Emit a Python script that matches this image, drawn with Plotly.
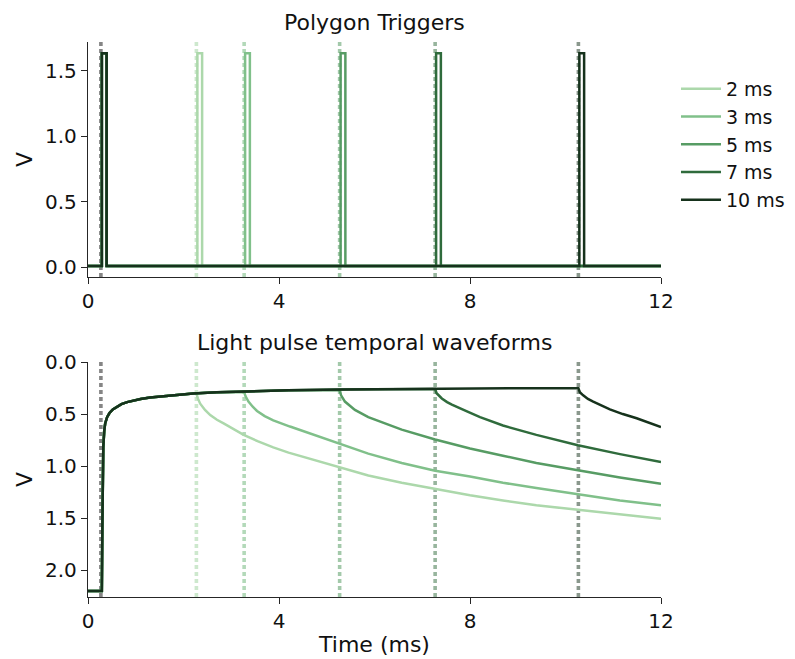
import plotly.graph_objects as go
from plotly.subplots import make_subplots

# ---------------- data ----------------
labels = ["2 ms", "3 ms", "5 ms", "7 ms", "10 ms"]
colors = ["#acd8ab", "#80c08a", "#579c64", "#2f6b3c", "#16321c"]
dash_colors = ["rgba(172,216,171,0.6)", "rgba(128,192,138,0.6)", "rgba(87,156,100,0.55)",
               "rgba(47,107,60,0.5)", "rgba(22,50,28,0.5)"]

onset_time = 0.27            # first dashed marker (light on)
offset_times = [2.27, 3.27, 5.27, 7.27, 10.27]   # dashed markers (light off)

# polygon trigger pulses (rise times, ms), width and level (V)
trigger_rise = [[0.29, 2.29], [0.29, 3.29], [0.29, 5.29], [0.29, 7.29], [0.29, 10.29]]
trigger_width = 0.1
trigger_high = 1.635
trigger_low = 0.01
t_start, t_end = 0.0, 12.0

# common rising part of the light waveform (ms, V)
rise_t = [0.0, 0.29, 0.30, 0.31, 0.32, 0.34, 0.36, 0.40, 0.45, 0.52, 0.60, 0.70, 0.82,
          0.95, 1.10, 1.30, 1.50, 1.80, 2.20, 2.70, 3.30, 4.2, 5.30, 6.3, 7.30, 8.8, 10.30]
rise_v = [2.20, 2.20, 1.60, 1.10, 0.82, 0.66, 0.59, 0.53, 0.49, 0.455, 0.43, 0.405, 0.385,
          0.37, 0.355, 0.342, 0.332, 0.318, 0.302, 0.29, 0.28, 0.272, 0.265, 0.26, 0.256, 0.252, 0.25]

# decay part after light off for each series (ms, V)
decay_t = [
    [2.30, 2.35, 2.45, 2.56, 2.70, 2.84, 3.05, 3.26, 3.55, 3.88, 4.20, 4.58, 5.00, 5.38,
     5.87, 6.57, 7.27, 8.00, 8.69, 9.39, 10.26, 11.14, 12.0],
    [3.30, 3.36, 3.45, 3.54, 3.70, 3.88, 4.23, 4.60, 4.93, 5.38, 5.87, 6.57, 7.27, 8.00,
     8.69, 9.39, 10.26, 11.14, 12.0],
    [5.30, 5.38, 5.48, 5.59, 5.87, 6.20, 6.57, 7.27, 8.00, 8.69, 9.39, 10.26, 11.14, 12.0],
    [7.30, 7.41, 7.52, 7.62, 7.96, 8.21, 8.69, 9.39, 10.26, 11.14, 12.0],
    [10.30, 10.37, 10.47, 10.58, 10.93, 11.20, 11.49, 12.0],
]
decay_v = [
    [0.35, 0.40, 0.46, 0.51, 0.555, 0.59, 0.645, 0.70, 0.76, 0.82, 0.87, 0.92, 0.975, 1.03,
     1.09, 1.16, 1.22, 1.28, 1.33, 1.375, 1.42, 1.46, 1.505],
    [0.33, 0.38, 0.43, 0.47, 0.52, 0.56, 0.62, 0.68, 0.73, 0.80, 0.88, 0.97, 1.045, 1.10,
     1.16, 1.21, 1.27, 1.33, 1.375],
    [0.32, 0.38, 0.42, 0.46, 0.53, 0.59, 0.65, 0.745, 0.83, 0.90, 0.97, 1.04, 1.11, 1.17],
    [0.30, 0.35, 0.385, 0.41, 0.48, 0.53, 0.61, 0.70, 0.80, 0.885, 0.96],
    [0.29, 0.32, 0.355, 0.38, 0.455, 0.50, 0.54, 0.625],
]

x_ticks = [0, 4, 8, 12]
top_y_ticks = [0.0, 0.5, 1.0, 1.5]
bot_y_ticks = [0.0, 0.5, 1.0, 1.5, 2.0]

# ---------------- figure ----------------
FONT = "DejaVu Sans"
TXT = "#111111"
fig = make_subplots(rows=2, cols=1, vertical_spacing=0.0)

# trigger traces
for i, lab in enumerate(labels):
    xs, ys = [t_start], [trigger_low]
    for r in trigger_rise[i]:
        xs += [r, r, r + trigger_width, r + trigger_width]
        ys += [trigger_low, trigger_high, trigger_high, trigger_low]
    xs.append(t_end)
    ys.append(trigger_low)
    fig.add_trace(go.Scatter(x=xs, y=ys, mode="lines", name=lab, showlegend=False,
                             line=dict(color=colors[i], width=2.5)), row=1, col=1)

# light waveform traces
for i, lab in enumerate(labels):
    off = offset_times[i]
    xs = [t for t in rise_t if t <= off]
    ys = [v for t, v in zip(rise_t, rise_v) if t <= off]
    xs.append(off)
    ys.append(ys[-1])
    xs += decay_t[i]
    ys += decay_v[i]
    fig.add_trace(go.Scatter(x=xs, y=ys, mode="lines", name=lab, showlegend=True,
                             line=dict(color=colors[i], width=2.5)), row=2, col=1)

# dashed markers
for yref in ["y domain", "y2 domain"]:
    xref = "x" if yref == "y domain" else "x2"
    fig.add_shape(type="line", xref=xref, yref=yref, x0=onset_time, x1=onset_time, y0=0, y1=1,
                  line=dict(color="rgba(120,120,120,0.9)", width=3.6, dash="4px,3px"), layer="below")
    for i, off in enumerate(offset_times):
        fig.add_shape(type="line", xref=xref, yref=yref, x0=off, x1=off, y0=0, y1=1,
                      line=dict(color=dash_colors[i], width=3.6, dash="4px,3px"), layer="below")

axis_common = dict(showline=True, linecolor="#262626", linewidth=1.4, ticks="outside",
                   ticklen=6, tickwidth=1.4, tickcolor="#262626", showgrid=False, zeroline=False,
                   tickfont=dict(family=FONT, size=20, color=TXT), automargin=False)

fig.update_xaxes(range=[0, 12], tickvals=x_ticks, ticktext=[str(v) for v in x_ticks], **axis_common)
fig.update_yaxes(**axis_common)

fig.update_layout(
    xaxis=dict(domain=[0, 1], anchor="y"),
    yaxis=dict(domain=[320 / 555, 1], range=[-0.073, 1.72], tickvals=top_y_ticks,
               ticktext=[f"{v:.1f}" for v in top_y_ticks],
               title=dict(text="V", font=dict(family=FONT, size=22, color=TXT), standoff=6)),
    xaxis2=dict(domain=[0, 1], anchor="y2",
                title=dict(text="Time (ms)", font=dict(family=FONT, size=22, color=TXT), standoff=4)),
    yaxis2=dict(domain=[0, 235 / 555], range=[2.257, 0.0], tickvals=bot_y_ticks,
                ticktext=[f"{v:.1f}" for v in bot_y_ticks],
                title=dict(text="V", font=dict(family=FONT, size=22, color=TXT), standoff=6)),
    width=795, height=659,
    margin=dict(l=88, r=134, t=42, b=62, autoexpand=False),
    plot_bgcolor="white", paper_bgcolor="white",
    font=dict(family=FONT, color=TXT),
    showlegend=True,
    legend=dict(xref="container", yref="container", x=0.8503, xanchor="left",
                y=0.8938, yanchor="top", bgcolor="rgba(0,0,0,0)",
                font=dict(family=FONT, size=19, color=TXT), itemwidth=40, tracegroupgap=0),
    annotations=[
        dict(text="Polygon Triggers", xref="paper", yref="paper", x=0.5, y=1, yshift=5,
             xanchor="center", yanchor="bottom", showarrow=False,
             font=dict(family=FONT, size=22, color=TXT)),
        dict(text="Light pulse temporal waveforms", xref="paper", yref="paper", x=0.5,
             y=235 / 555, yshift=5, xanchor="center", yanchor="bottom", showarrow=False,
             font=dict(family=FONT, size=22, color=TXT)),
    ],
)

fig.write_html("out.html")
